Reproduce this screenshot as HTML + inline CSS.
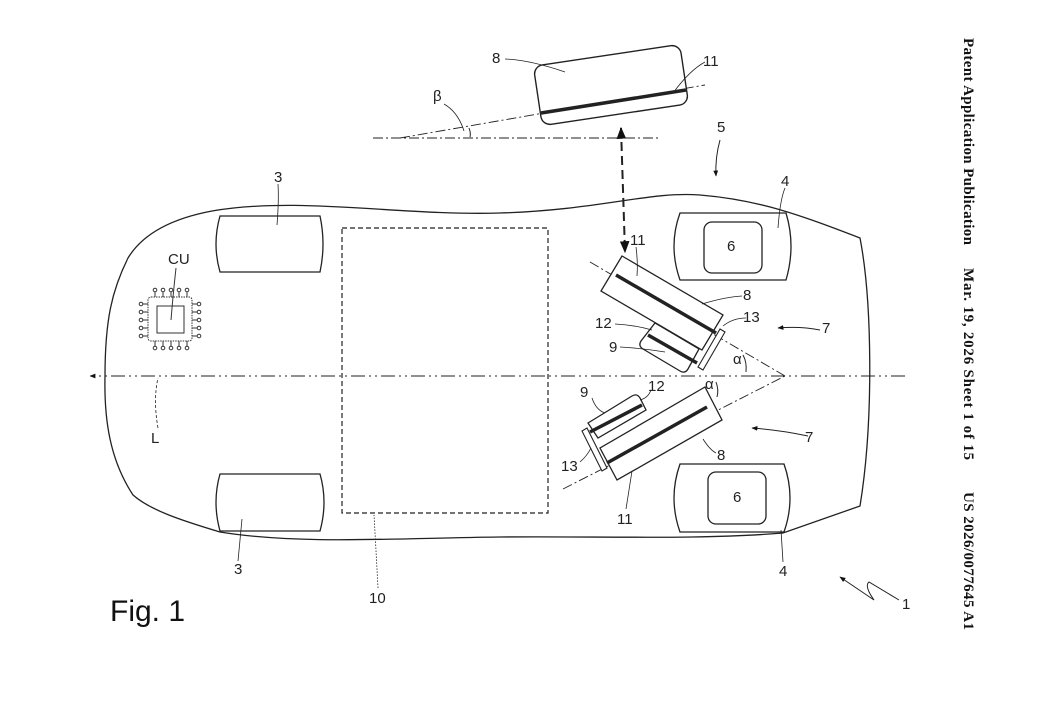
<!DOCTYPE html>
<html><head><style>
html,body{margin:0;padding:0;background:#fff;}
svg{display:block;}
text{font-family:"Liberation Sans",sans-serif;font-size:15px;fill:#222;}
</style></head><body>
<svg width="1044" height="703" viewBox="0 0 1044 703" xmlns="http://www.w3.org/2000/svg">
<defs>
<marker id="ah" viewBox="0 0 10 10" refX="9" refY="5" markerWidth="6" markerHeight="6" orient="auto-start-reverse"><path d="M0,1 L10,5 L0,9 Z" fill="#111"/></marker>
</defs>
<g fill="none" stroke="#222" stroke-width="1.3">
<path d="M212,211 C300,196 400,216 500,213 C600,210 650,191 700,195 C760,200 800,215 860,238 C872,300 874,420 860,506 L783,533 C700,540 600,536 500,537 C400,538 300,545 220,532 C180,520 150,510 133,495 C110,460 104,420 105,376 C105,320 112,290 128,258 C145,230 180,217 212,211 Z"/>
<path d="M220,216 L320,216 Q326,244 320,272 L220,272 Q212,244 220,216 Z"/>
<path d="M220,474 L320,474 Q328,502 320,531 L220,531 Q212,502 220,474 Z"/>
<path d="M680,213 L786,213 Q796,246 786,280 L680,280 Q668,246 680,213 Z"/>
<rect x="704" y="222" width="58" height="51" rx="8"/>
<path d="M680,464 L784,464 Q796,498 784,532 L680,532 Q668,498 680,464 Z"/>
<rect x="708" y="472" width="58" height="52" rx="8"/>
</g>
<rect x="342" y="228" width="206" height="285" fill="none" stroke="#222" stroke-width="1.2" stroke-dasharray="5,3"/>
<line x1="905" y1="376" x2="90" y2="376" stroke="#222" stroke-width="1" stroke-dasharray="14,4,2,4,2,4" marker-end="url(#ah)"/>
<g fill="none" stroke="#333" stroke-width="1">
<rect x="148" y="297" width="44" height="44" rx="3" stroke-dasharray="1.5,1"/>
<rect x="157" y="306" width="27" height="27"/>
<line x1="155" y1="292" x2="155" y2="297"/><line x1="163" y1="292" x2="163" y2="297"/><line x1="171" y1="292" x2="171" y2="297"/><line x1="179" y1="292" x2="179" y2="297"/><line x1="187" y1="292" x2="187" y2="297"/>
<circle cx="155" cy="290" r="1.8"/><circle cx="163" cy="290" r="1.8"/><circle cx="171" cy="290" r="1.8"/><circle cx="179" cy="290" r="1.8"/><circle cx="187" cy="290" r="1.8"/>
<line x1="155" y1="341" x2="155" y2="346"/><line x1="163" y1="341" x2="163" y2="346"/><line x1="171" y1="341" x2="171" y2="346"/><line x1="179" y1="341" x2="179" y2="346"/><line x1="187" y1="341" x2="187" y2="346"/>
<circle cx="155" cy="348" r="1.8"/><circle cx="163" cy="348" r="1.8"/><circle cx="171" cy="348" r="1.8"/><circle cx="179" cy="348" r="1.8"/><circle cx="187" cy="348" r="1.8"/>
<line x1="143" y1="304" x2="148" y2="304"/><line x1="143" y1="312" x2="148" y2="312"/><line x1="143" y1="320" x2="148" y2="320"/><line x1="143" y1="328" x2="148" y2="328"/><line x1="143" y1="336" x2="148" y2="336"/>
<circle cx="141" cy="304" r="1.8"/><circle cx="141" cy="312" r="1.8"/><circle cx="141" cy="320" r="1.8"/><circle cx="141" cy="328" r="1.8"/><circle cx="141" cy="336" r="1.8"/>
<line x1="192" y1="304" x2="197" y2="304"/><line x1="192" y1="312" x2="197" y2="312"/><line x1="192" y1="320" x2="197" y2="320"/><line x1="192" y1="328" x2="197" y2="328"/><line x1="192" y1="336" x2="197" y2="336"/>
<circle cx="199" cy="304" r="1.8"/><circle cx="199" cy="312" r="1.8"/><circle cx="199" cy="320" r="1.8"/><circle cx="199" cy="328" r="1.8"/><circle cx="199" cy="336" r="1.8"/>
<path d="M176,268 Q173,295 171,320"/>
</g>
<g fill="none" stroke="#222">
<line x1="373" y1="138" x2="660" y2="138" stroke-width="0.9" stroke-dasharray="10,3,2,3"/>
<line x1="400" y1="138" x2="705" y2="85" stroke-width="0.9" stroke-dasharray="10,3,2,3"/>
<rect x="537" y="55" width="148" height="60" rx="9" transform="rotate(-8.5 611 85)" stroke-width="1.4" fill="#fff"/>
<line x1="541" y1="113" x2="686" y2="90" stroke-width="3.5"/>
<path d="M469,128 Q471,133 470,137" stroke-width="1"/>
<path d="M444,104 Q458,112 464,131" stroke-width="0.8"/>
<path d="M505,59 Q530,60 565,72" stroke-width="0.8"/>
<path d="M705,62 Q690,70 673,93" stroke-width="0.8"/>
<line x1="621" y1="128" x2="625" y2="252" stroke-width="2" stroke-dasharray="9,5" marker-start="url(#ah)" marker-end="url(#ah)"/>
<path d="M720,140 Q715,158 716,176" stroke-width="1" marker-end="url(#ah)"/>
<line x1="590" y1="262" x2="785" y2="376" stroke-width="0.9" stroke-dasharray="10,3,2,3"/>
<line x1="563" y1="489" x2="785" y2="376" stroke-width="0.9" stroke-dasharray="10,3,2,3"/>
<path d="M655,323 L699,349 L688,369 Q685,374 680,371 L643,349 Q638,346 641,341 Z" stroke-width="1.3" fill="#fff"/>
<polygon points="622,256 723,315 702,350 601,291" stroke-width="1.3" fill="#fff"/>
<line x1="616" y1="275" x2="716" y2="333" stroke-width="3.5"/>
<line x1="648" y1="335" x2="697" y2="363" stroke-width="3.5"/>
<polygon points="720,329 725,332 703,370 698,367" stroke-width="1.1" fill="#fff"/>
<path d="M743,355 Q747,362 746,372" stroke-width="1"/>
<path d="M588,423 L632,396 Q637,393 640,398 L646,410 L598,438 Z" stroke-width="1.3" fill="#fff"/>
<polygon points="705,387 722,420 617,480 600,448" stroke-width="1.3" fill="#fff"/>
<line x1="707" y1="407" x2="607" y2="463" stroke-width="3.5"/>
<line x1="590" y1="432" x2="642" y2="405" stroke-width="3.5"/>
<polygon points="582,431 587,428 607,468 602,471" stroke-width="1.1" fill="#fff"/>
<path d="M716,382 Q719,390 717,397" stroke-width="1"/>
<g stroke-width="0.8">
<path d="M278,184 Q279,200 277,225"/>
<path d="M785,188 Q780,200 778,228"/>
<path d="M636,247 Q638,262 637,276"/>
<path d="M742,296 Q725,297 702,304"/>
<path d="M746,318 Q733,318 723,326"/>
<path d="M615,324 Q635,325 652,330"/>
<path d="M620,347 Q640,348 665,352"/>
<path d="M592,398 Q596,410 605,413"/>
<path d="M651,390 Q648,398 640,400"/>
<path d="M716,453 Q710,450 703,439"/>
<path d="M580,462 Q587,456 591,448"/>
<path d="M626,509 Q629,490 632,471"/>
<path d="M158,428 Q153,400 158,378" stroke-dasharray="3,2"/>
<path d="M238,561 Q240,540 242,519"/>
<path d="M783,562 Q782,545 781,530"/>
<path d="M378,588 Q376,550 374,515" stroke-dasharray="1.5,1.5"/>
</g>
<path d="M820,330 Q800,326 778,328" stroke-width="1" marker-end="url(#ah)"/>
<path d="M808,436 Q780,430 752,428" stroke-width="1" marker-end="url(#ah)"/>
<path d="M899,600 L869,582 Q864,586 874,600 L840,577" stroke-width="1" marker-end="url(#ah)"/>
</g>
<text x="492" y="63">8</text>
<text x="703" y="66">11</text>
<text x="433" y="101">β</text>
<text x="717" y="132">5</text>
<text x="274" y="182">3</text>
<text x="781" y="186">4</text>
<text x="168" y="264">CU</text>
<text x="630" y="245">11</text>
<text x="727" y="251">6</text>
<text x="743" y="300">8</text>
<text x="743" y="322">13</text>
<text x="595" y="328">12</text>
<text x="609" y="352">9</text>
<text x="822" y="333">7</text>
<text x="733" y="364">α</text>
<text x="705" y="389">α</text>
<text x="580" y="397">9</text>
<text x="648" y="391">12</text>
<text x="717" y="460">8</text>
<text x="805" y="442">7</text>
<text x="561" y="471">13</text>
<text x="617" y="524">11</text>
<text x="733" y="502">6</text>
<text x="151" y="443">L</text>
<text x="234" y="574">3</text>
<text x="779" y="576">4</text>
<text x="369" y="603">10</text>
<text x="902" y="609">1</text>
<text x="110" y="621" style="font-size:30px;fill:#111">Fig. 1</text>
<g transform="translate(964,38) rotate(90)">
<text x="0" y="0" textLength="207" style="font-family:'Liberation Serif',serif;font-weight:bold;font-size:15px;fill:#111">Patent Application Publication</text>
<text x="230" y="0" textLength="192" style="font-family:'Liberation Serif',serif;font-weight:bold;font-size:15px;fill:#111">Mar. 19, 2026  Sheet 1 of 15</text>
<text x="454" y="0" textLength="138" style="font-family:'Liberation Serif',serif;font-weight:bold;font-size:15px;fill:#111">US 2026/0077645 A1</text>
</g>
</svg>
</body></html>
